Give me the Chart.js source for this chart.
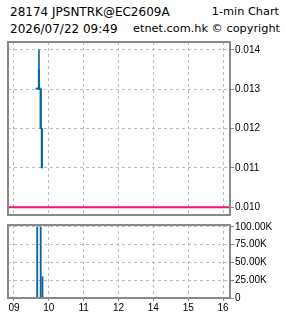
<!DOCTYPE html>
<html>
<head>
<meta charset="utf-8">
<script src="https://cdn.jsdelivr.net/npm/chart.js@4.4.1/dist/chart.umd.min.js"></script>
<style>
  html, body { margin: 0; padding: 0; background: #fff; }
  body { width: 285px; height: 318px; position: relative; overflow: hidden; }
  .t { position: absolute; font-family: "DejaVu Sans", sans-serif; font-size: 12px; line-height: 14px; color: #000; white-space: nowrap; }
  .r { font-size: 11.3px; }
  canvas { position: absolute; left: 0; }
</style>
</head>
<body>
<div class="t" style="left:10px; top:5px;">28174 JPSNTRK@EC2609A</div>
<div class="t r" style="right:6px; top:5px;">1-min Chart</div>
<div class="t" style="left:10px; top:22px;">2026/07/22 09:49</div>
<div class="t r" style="right:5px; top:22px;">etnet.com.hk © copyright</div>
<canvas id="price" width="285" height="222" style="top:0"></canvas>
<canvas id="vol" width="285" height="100" style="top:218px"></canvas>
<script>
// ---- data ----
const candleTimes = ['09:42', '09:43', '09:46', '09:48'];
const candleOpen  = [0.013, 0.0135, 0.013, 0.012];
const candleHigh  = [0.013, 0.014,  0.013, 0.012];
const candleLow   = [0.013, 0.013,  0.012, 0.011];
const candleClose = [0.013, 0.013,  0.012, 0.011];
const prevClose = 0.010;

const volTimes  = ['09:40', '09:46', '09:49'];
const volValues = [100000, 100000, 30000];

const xTickHours  = [9, 10, 11, 12, 14, 15, 16];
const xTickLabels = ['09', '10', '11', '12', '14', '15', '16'];
const priceTicks  = [0.010, 0.011, 0.012, 0.013, 0.014];
const volTicks    = [0, 25000, 50000, 75000, 100000];

// ---- helpers ----
// trading-session time axis: lunch hour (12:00-13:00) removed
function sessionPos(h) { return h >= 13 ? h - 1 : h; }
function timePos(t) { const [H, M] = t.split(':').map(Number); return sessionPos(H + M / 60); }
const xTickPos = xTickHours.map(sessionPos);
const X_MIN = 8.828, X_MAX = 15.2;

const BLUE = '#0b65a3';
const PINK = '#ff0a80';
const GRID = '#bdbdbd';
const FRAME = '#888888';
const tickFont = { family: '"Liberation Sans", Arial, sans-serif', size: 10 };

const framePlugin = {
  id: 'frame',
  afterDraw(chart) {
    const a = chart.chartArea, ctx = chart.ctx;
    ctx.save();
    ctx.strokeStyle = FRAME; ctx.lineWidth = 2;
    ctx.strokeRect(a.left, a.top, a.right - a.left, a.bottom - a.top);
    ctx.restore();
  }
};

function xScale(showLabels) {
  return {
    type: 'linear', min: X_MIN, max: X_MAX, offset: false,
    afterBuildTicks: s => { s.ticks = xTickPos.map(v => ({ value: v })); },
    afterFit: s => { s.height = showLabels ? 20 : 0; },
    ticks: {
      display: showLabels, autoSkip: false, maxRotation: 0, padding: 1,
      color: '#000', font: tickFont,
      callback: (v) => xTickLabels[xTickPos.indexOf(v)]
    },
    grid: { offset: false, color: GRID, drawTicks: showLabels, tickLength: 3, tickColor: FRAME, tickBorderDash: [] },
    border: { display: false, dash: [3, 3] }
  };
}

function yScale(min, max, ticks, fmt) {
  return {
    position: 'right', min: min, max: max, beginAtZero: false,
    afterBuildTicks: s => { s.ticks = ticks.map(v => ({ value: v })); },
    afterFit: s => { s.width = 55; },
    ticks: { color: '#000', font: tickFont, padding: 1, callback: fmt },
    grid: { color: GRID, drawTicks: true, tickLength: 4, tickColor: FRAME, tickBorderDash: [] },
    border: { display: false, dash: [3, 3] }
  };
}

const isDoji = candleOpen.map((o, i) => o === candleClose[i]);

new Chart(document.getElementById('price'), {
  type: 'bar',
  data: {
    datasets: [
      { type: 'line', data: [{ x: X_MIN, y: prevClose }, { x: X_MAX, y: prevClose }],
        borderColor: PINK, borderWidth: 2, pointRadius: 0, order: 0 },
      { data: candleTimes.map((t, i) => ({ x: timePos(t), y: [candleLow[i], candleHigh[i]] })),
        backgroundColor: BLUE, barThickness: 1, grouped: false, order: 2 },
      { data: candleTimes.map((t, i) => ({ x: timePos(t), y: [candleOpen[i], candleClose[i]] })).filter((d, i) => !isDoji[i]),
        backgroundColor: BLUE, barThickness: 1.5, grouped: false, order: 1 },
      { data: candleTimes.map((t, i) => ({ x: timePos(t), y: [candleOpen[i], candleClose[i]] })).filter((d, i) => isDoji[i]),
        backgroundColor: BLUE, barThickness: 5, minBarLength: 1.2, grouped: false, order: 1 }
    ]
  },
  options: {
    responsive: false, animation: false, devicePixelRatio: 1,
    layout: { padding: { left: 8, top: 42, right: 0, bottom: 6 } },
    plugins: { legend: { display: false }, tooltip: { enabled: false } },
    scales: {
      x: xScale(false),
      y: yScale(0.0098, 0.0142, priceTicks, v => v.toFixed(3))
    }
  },
  plugins: [framePlugin]
});

new Chart(document.getElementById('vol'), {
  type: 'bar',
  data: {
    datasets: [
      { data: volTimes.map((t, i) => ({ x: timePos(t), y: volValues[i] })),
        backgroundColor: BLUE, barThickness: 1.2, grouped: false }
    ]
  },
  options: {
    responsive: false, animation: false, devicePixelRatio: 1,
    layout: { padding: { left: 8, top: 4, right: 0, bottom: 0 } },
    plugins: { legend: { display: false }, tooltip: { enabled: false } },
    scales: {
      x: xScale(true),
      y: yScale(0, 102700, volTicks, v => v === 0 ? '0' : (v / 1000).toFixed(2) + 'K')
    }
  },
  plugins: [framePlugin]
});
</script>
</body>
</html>
